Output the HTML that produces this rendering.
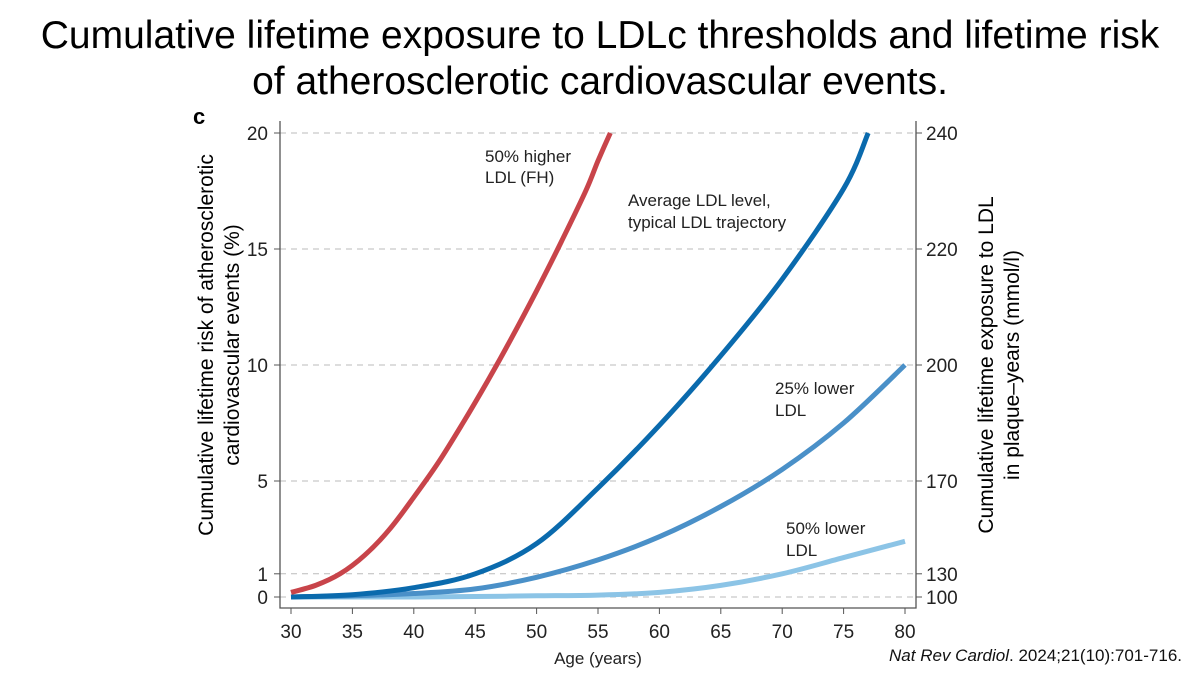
<!DOCTYPE html>
<html><head><meta charset="utf-8"><style>
body{margin:0;background:#fff;width:1200px;height:675px;overflow:hidden;font-family:"Liberation Sans",sans-serif}
</style></head><body>
<svg width="1200" height="675" xmlns="http://www.w3.org/2000/svg" font-family="Liberation Sans, sans-serif">
<text x="600" y="48" font-size="39" text-anchor="middle">Cumulative lifetime exposure to LDLc thresholds and lifetime risk</text>
<text x="600" y="94" font-size="39" text-anchor="middle">of atherosclerotic cardiovascular events.</text>
<text x="193" y="124" font-size="22" font-weight="bold">c</text>
<g id="grid"></g><g id="axes"></g><g id="series"></g>
<text transform="translate(213,345) rotate(-90)" font-size="21" text-anchor="middle">Cumulative lifetime risk of atherosclerotic</text>
<text transform="translate(239,345) rotate(-90)" font-size="21" text-anchor="middle">cardiovascular events (%)</text>
<text transform="translate(993,365) rotate(-90)" font-size="21" text-anchor="middle">Cumulative lifetime exposure to LDL</text>
<text transform="translate(1019,365) rotate(-90)" font-size="21" text-anchor="middle">in plaque–years (mmol/l)</text>
<text x="598" y="664" font-size="17" text-anchor="middle" fill="#222">Age (years)</text>
<g font-size="17" fill="#222">
<text x="485" y="162">50% higher</text>
<text x="485" y="183">LDL (FH)</text>
<text x="628" y="206">Average LDL level,</text>
<text x="628" y="228">typical LDL trajectory</text>
<text x="775" y="394">25% lower</text>
<text x="775" y="416">LDL</text>
<text x="786" y="534">50% lower</text>
<text x="786" y="556">LDL</text>
</g>
<text x="1182" y="661" font-size="17" text-anchor="end" fill="#111"><tspan font-style="italic">Nat Rev Cardiol</tspan>. 2024;21(10):701-716.</text>
</svg>
<script>
const xTicks=[30,35,40,45,50,55,60,65,70,75,80];
const yTicks=[0,1,5,10,15,20];
const yRightLabels=["100","130","170","200","220","240"];
const ages=[30,32,34,36,38,40,42,44,46,48,50,52,54,55,56];
const fhRisk=[0.2,0.5,1.0,1.8,2.9,4.3,5.8,7.5,9.3,11.2,13.2,15.3,17.5,18.8,20];
const avgAges=[30,35,40,45,50,55,60,65,70,75,77];
const avgRisk=[0,0.1,0.4,1.0,2.3,4.7,7.4,10.4,13.7,17.6,20];
const lowAges=[30,35,40,45,50,55,60,65,70,75,80];
const low25Risk=[0,0.05,0.15,0.35,0.85,1.6,2.6,3.9,5.5,7.5,10];
const low50Risk=[0,0,0,0.02,0.05,0.08,0.2,0.5,1.0,1.7,2.4];
const ns="http://www.w3.org/2000/svg";
const X=a=>291+(a-30)*(905-291)/50;
const Y=v=>597-v*(597-133)/20;
function mk(t,at,parent){const e=document.createElementNS(ns,t);for(const k in at)e.setAttribute(k,at[k]);document.getElementById(parent).appendChild(e);return e;}
yTicks.forEach((v,i)=>{
 const g=mk('line',{x1:280,x2:916,y1:Y(v),y2:Y(v),stroke:'#bbb','stroke-dasharray':'6,5','stroke-width':1},'grid');
 
 
 const t1=mk('line',{x1:274,x2:280,y1:Y(v),y2:Y(v),stroke:'#555'},'axes');
 
 
 const l=mk('text',{x:268,y:Y(v)+7,'font-size':19,'text-anchor':'end',fill:'#222'},'axes');l.textContent=v;
 
 
 const t2=mk('line',{x1:916,x2:922,y1:Y(v),y2:Y(v),stroke:'#555'},'axes');
 
 
 const r=mk('text',{x:926,y:Y(v)+7,'font-size':19,fill:'#222'},'axes');r.textContent=yRightLabels[i];
 
 
});
xTicks.forEach(a=>{
 const t=mk('line',{x1:X(a),x2:X(a),y1:608,y2:614,stroke:'#555'},'axes');
 
 
 const l=mk('text',{x:X(a),y:638,'font-size':19,'text-anchor':'middle',fill:'#222'},'axes');l.textContent=a;
 
 
});
const ax=mk('path',{d:'M280,121 V608 H916 V121',fill:'none',stroke:'#555','stroke-width':1.3},'axes');


function line(xs,ys,c,name){
 const P=xs.map((a,i)=>[X(a),Y(ys[i])]);
 let d='M'+P[0][0].toFixed(1)+','+P[0][1].toFixed(1);
 for(let i=0;i<P.length-1;i++){
  const p0=P[Math.max(0,i-1)],p1=P[i],p2=P[i+1],p3=P[Math.min(P.length-1,i+2)];
  const c1=[p1[0]+(p2[0]-p0[0])/6,p1[1]+(p2[1]-p0[1])/6];
  const c2=[p2[0]-(p3[0]-p1[0])/6,p2[1]-(p3[1]-p1[1])/6];
  d+=' C'+c1.map(v=>v.toFixed(1)).join(',')+' '+c2.map(v=>v.toFixed(1)).join(',')+' '+p2.map(v=>v.toFixed(1)).join(',');
 }
 const p=mk('path',{d:d,fill:'none',stroke:c,'stroke-width':5,'stroke-linejoin':'round'},'series');
 
 
}
line(lowAges,low50Risk,'#8cc4e6','line-50-lower');
line(lowAges,low25Risk,'#4a90c8','line-25-lower');
line(avgAges,avgRisk,'#0a6aad','line-average');
line(ages,fhRisk,'#c8444a','line-fh');
</script>
</body></html>
